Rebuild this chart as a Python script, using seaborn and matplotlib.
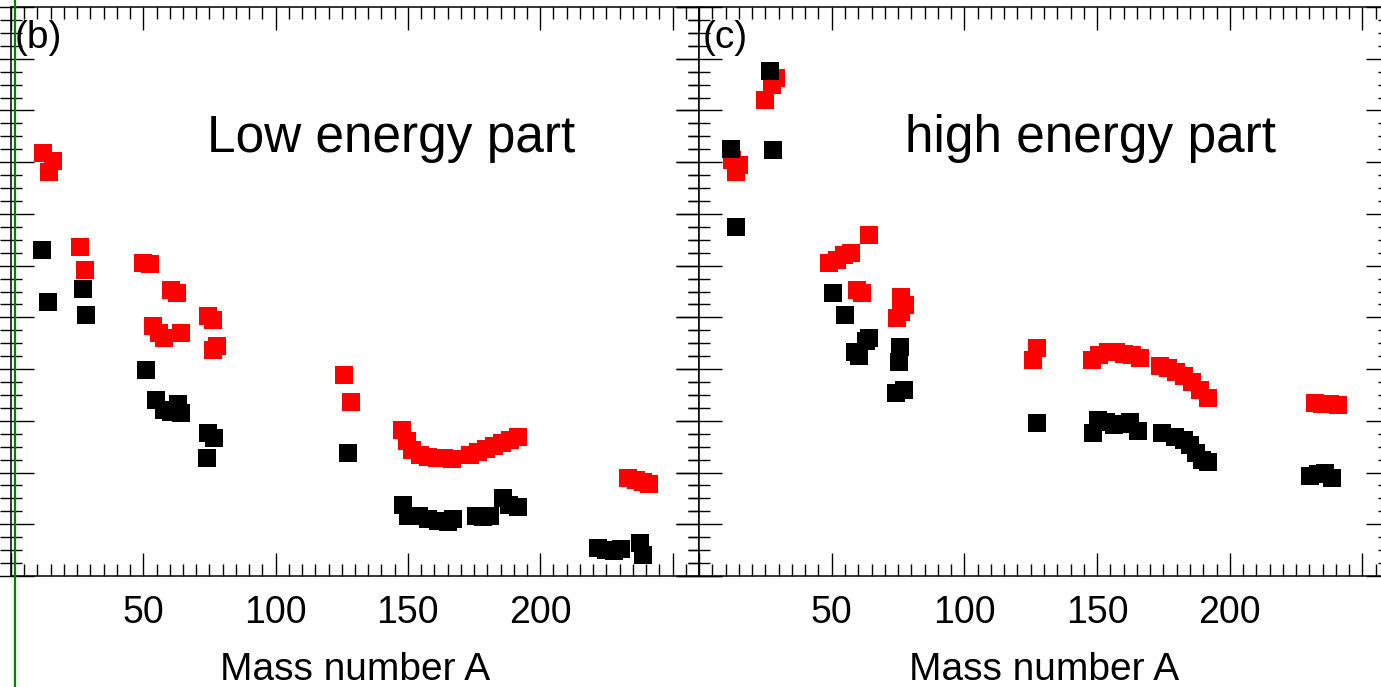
import seaborn as sns
import matplotlib.pyplot as plt
from matplotlib.lines import Line2D
from matplotlib.ticker import MultipleLocator

# panel (b): low energy part
low_red_A = [12.1, 15.8, 14.3, 26.0, 27.9, 49.8, 52.5, 60.4, 62.6, 53.6, 55.8, 57.7, 64.2,
             74.3, 76.2, 76.2, 77.7, 126.0, 128.3,
             147.9, 149.8, 151.7, 154.7, 157.7, 160.8, 163.8, 166.8, 173.6, 176.6, 179.6,
             182.6, 185.7, 188.7, 191.7, 233.2, 236.2, 238.9, 241.1]
low_red_y = [8.18, 8.02, 7.81, 6.36, 5.92, 6.05, 6.03, 5.53, 5.47, 4.83, 4.70, 4.60, 4.70,
             5.03, 4.95, 4.37, 4.45, 3.89, 3.36,
             2.82, 2.61, 2.44, 2.34, 2.30, 2.28, 2.28, 2.26, 2.34, 2.40, 2.46,
             2.51, 2.57, 2.63, 2.69, 1.89, 1.86, 1.82, 1.78]
low_black_A = [11.7, 14.0, 27.2, 28.3, 50.9, 54.7, 57.7, 60.4, 63.0, 64.2, 74.3, 76.6, 74.0,
               127.2, 148.3, 150.2, 154.0, 157.7, 161.5, 165.3, 167.2, 175.8, 178.5, 181.1,
               186.0, 188.3, 191.7, 221.9, 224.9, 227.9, 230.6, 237.7, 238.9]
low_black_y = [6.30, 5.30, 5.55, 5.05, 3.98, 3.40, 3.21, 3.17, 3.32, 3.15, 2.76, 2.67, 2.28,
               2.38, 1.37, 1.16, 1.16, 1.10, 1.06, 1.04, 1.10, 1.16, 1.14, 1.16,
               1.51, 1.37, 1.33, 0.54, 0.50, 0.48, 0.52, 0.64, 0.41]

# panel (c): high energy part
high_red_A = [24.9, 27.5, 29.1, 12.5, 15.1, 14.0, 49.1, 52.1, 54.7, 57.4, 59.6, 61.5, 64.2,
              76.2, 77.7, 74.7, 76.2, 126.0, 127.5,
              147.9, 150.9, 154.0, 157.0, 160.0, 163.0, 166.0, 173.6, 176.6, 179.6, 182.6,
              185.7, 188.7, 191.7, 232.1, 234.7, 237.7, 240.8]
high_red_y = [9.20, 9.49, 9.63, 8.04, 7.95, 7.81, 6.05, 6.11, 6.21, 6.24, 5.53, 5.47, 6.59,
              5.39, 5.24, 4.99, 5.10, 4.18, 4.41,
              4.18, 4.27, 4.33, 4.33, 4.29, 4.27, 4.21, 4.06, 4.02, 3.94, 3.87,
              3.75, 3.60, 3.44, 3.34, 3.32, 3.32, 3.31]
high_black_A = [26.8, 27.9, 12.1, 14.0, 50.6, 55.1, 58.9, 60.4, 63.0, 64.2, 75.8, 75.5, 77.4,
                74.3, 127.2, 148.3, 150.2, 153.2, 156.2, 159.2, 162.3, 165.3, 174.3, 179.2,
                182.6, 184.9, 187.2, 189.4, 191.7, 230.2, 233.2, 235.8, 238.5]
high_black_y = [9.76, 8.24, 8.25, 6.75, 5.47, 5.05, 4.33, 4.25, 4.54, 4.60, 4.43, 4.14, 3.60,
                3.54, 2.96, 2.76, 3.02, 2.98, 2.92, 2.94, 2.98, 2.80, 2.76, 2.69,
                2.63, 2.53, 2.38, 2.24, 2.20, 1.93, 1.97, 1.99, 1.89]

xticks = [0, 50, 100, 150, 200, 250]
xticklabels = ["", "50", "100", "150", "200", ""]

sns.set_style("ticks")
plt.rcParams["font.family"] = ["Liberation Sans", "DejaVu Sans"]
plt.rcParams["text.color"] = "black"
plt.rcParams["axes.labelcolor"] = "black"
plt.rcParams["xtick.labelcolor"] = "black"

W, H = 1381, 687
fig = plt.figure(figsize=(W / 100, H / 100), dpi=100)
ax1 = fig.add_axes([11 / W, (H - 576) / H, 688 / W, 569 / H])
ax2 = fig.add_axes([699 / W, (H - 576) / H, 690 / W, 569 / H])

panels = [
    (ax1, low_red_A, low_red_y, low_black_A, low_black_y, "(b)", "Low energy part", 0.552),
    (ax2, high_red_A, high_red_y, high_black_A, high_black_y, "(c)", "high energy part", 0.567),
]

for ax, rA, ry, bA, by, tag, title, tx in panels:
    sns.scatterplot(x=rA, y=ry, color="#ff0000", marker="s", s=150, linewidth=0, ax=ax, zorder=3)
    sns.scatterplot(x=bA, y=by, color="#000000", marker="s", s=150, linewidth=0, ax=ax, zorder=4)
    ax.set_xlim(0, 260)
    ax.set_ylim(0, 11)
    ax.set_xticks(xticks)
    ax.set_xticklabels(xticklabels)
    ax.xaxis.set_minor_locator(MultipleLocator(5))
    ax.yaxis.set_major_locator(MultipleLocator(1))
    ax.yaxis.set_minor_locator(MultipleLocator(0.25))
    ax.set_yticklabels([])
    ax.tick_params(axis="x", which="both", direction="in", top=True, bottom=True,
                   labelsize=27, pad=13.5, width=1, color="black", labelcolor="black")
    ax.tick_params(axis="x", which="major", length=16.5)
    ax.tick_params(axis="x", which="minor", length=8.5)
    ax.tick_params(axis="y", which="both", direction="inout", left=True, right=True,
                   width=1, color="black")
    ax.tick_params(axis="y", which="major", length=33)
    ax.tick_params(axis="y", which="minor", length=16)
    for sp in ax.spines.values():
        sp.set_linewidth(1.1)
        sp.set_color("black")
    ax.set_xlabel("Mass number A", fontsize=28, labelpad=15, color="black")
    ax.set_ylabel("")
    ax.text(0.005, 0.977, tag, transform=ax.transAxes, fontsize=28, ha="left", va="top",
            color="black")
    ax.text(tx, 0.745, title, transform=ax.transAxes, fontsize=37, ha="center", va="baseline",
            color="black")

fig.add_artist(Line2D([15 / W, 15 / W], [0, 1], color="#008000", linewidth=1.6,
                      transform=fig.transFigure))

fig.savefig("out.png", dpi=100)
